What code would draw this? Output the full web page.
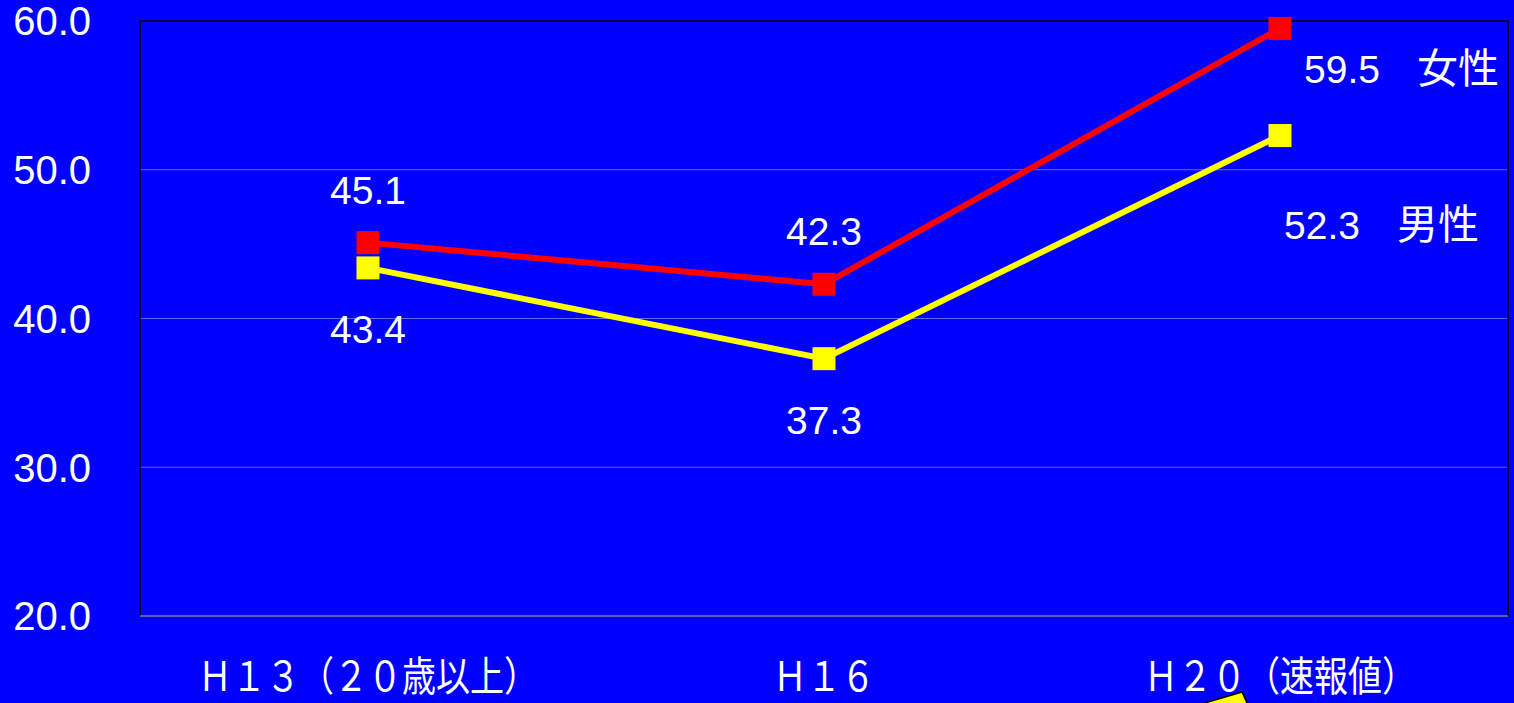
<!DOCTYPE html>
<html>
<head>
<meta charset="utf-8">
<script src="https://cdn.jsdelivr.net/npm/d3@7"></script>
<style>
  html, body { margin: 0; padding: 0; background: #0000ff; overflow: hidden; }
</style>
</head>
<body>
<div id="chart"></div>
<script>
const categories = ["Ｈ１３（２０歳以上）", "Ｈ１６", "Ｈ２０（速報値）"];
const femaleValues = [45.1, 42.3, 59.5];
const maleValues = [43.4, 37.3, 52.3];
const yTicks = [20, 30, 40, 50, 60];
const seriesNames = ["女性", "男性"];

const width = 1514;
const height = 703;
const padding = { top: 21, right: 6, bottom: 87, left: 140 };

const svg = d3
  .select("#chart")
  .append("svg")
  .attr("width", width)
  .attr("height", height);

svg.append("rect").attr("width", width).attr("height", height).attr("fill", "#0000ff");

const x = d3
  .scaleBand()
  .domain(categories)
  .range([padding.left, width - padding.right]);

const y = d3
  .scaleLinear()
  .domain([20, 60])
  .range([height - padding.bottom, padding.top]);

const cx = (d) => x(d) + x.bandwidth() / 2;

// grid lines
svg
  .append("g")
  .selectAll("line")
  .data(yTicks.filter((t) => t > 20 && t < 60))
  .enter()
  .append("line")
  .attr("x1", padding.left)
  .attr("x2", width - padding.right)
  .attr("y1", (d) => y(d))
  .attr("y2", (d) => y(d))
  .attr("stroke", "#6464ff")
  .attr("stroke-width", 1);

// frame
svg
  .append("path")
  .attr("d", `M${padding.left},${y(20)}V${y(60)}H${width - padding.right}V${y(20)}`)
  .attr("fill", "none")
  .attr("stroke", "#000")
  .attr("stroke-width", 1.5);

svg
  .append("line")
  .attr("x1", padding.left)
  .attr("x2", width - padding.right)
  .attr("y1", y(20))
  .attr("y2", y(20))
  .attr("stroke", "#808080")
  .attr("stroke-width", 1.5);

// y axis labels
svg
  .append("g")
  .selectAll("text")
  .data(yTicks)
  .enter()
  .append("text")
  .attr("x", 91)
  .attr("y", (d) => y(d))
  .attr("dy", "0.36em")
  .attr("text-anchor", "end")
  .attr("fill", "#fff")
  .attr("font-family", "Liberation Sans, Arial, sans-serif")
  .attr("font-size", 40)
  .text((d) => d.toFixed(1));

// x axis labels
svg
  .append("g")
  .selectAll("text")
  .data(categories)
  .enter()
  .append("text")
  .attr("transform", (d) => `translate(${cx(d)},${height - 12}) scale(1,1.2)`)
  .attr("text-anchor", "middle")
  .attr("fill", "#fff")
  .attr("font-family", "Noto Sans CJK JP, sans-serif")
  .attr("font-size", 34)
  .text((d) => d);

// callout piece at the bottom
svg
  .append("path")
  .attr("d", `M${cx(categories[2]) - 82},${height + 2}L${cx(categories[2]) - 38},${height - 11}L${cx(categories[2]) - 32},${height + 2}Z`)
  .attr("fill", "#ffff00")
  .attr("stroke", "#000")
  .attr("stroke-width", 1.5);

const line = d3
  .line()
  .x((d, i) => cx(categories[i]))
  .y((d) => y(d));

const series = [
  { name: seriesNames[1], values: maleValues, color: "#ffff00" },
  { name: seriesNames[0], values: femaleValues, color: "#ff0000" },
];

series.forEach(function (s) {
  svg
    .append("path")
    .datum(s.values)
    .attr("fill", "none")
    .attr("stroke", s.color)
    .attr("stroke-width", 6)
    .attr("d", line);

  svg
    .append("g")
    .selectAll("rect")
    .data(s.values)
    .enter()
    .append("rect")
    .attr("x", (d, i) => cx(categories[i]) - 11.5)
    .attr("y", (d) => y(d) - 11.5)
    .attr("width", 23)
    .attr("height", 23)
    .attr("fill", s.color);
});

const labelFont = "Liberation Sans, Arial, sans-serif";

// data labels for first two categories
[0, 1].forEach(function (i) {
  svg
    .append("text")
    .attr("x", cx(categories[i]))
    .attr("y", y(femaleValues[i]) - 39)
    .attr("text-anchor", "middle")
    .attr("fill", "#fff")
    .attr("font-family", labelFont)
    .attr("font-size", 39)
    .text(femaleValues[i].toFixed(1));

  svg
    .append("text")
    .attr("x", cx(categories[i]))
    .attr("y", y(maleValues[i]) + 75)
    .attr("text-anchor", "middle")
    .attr("fill", "#fff")
    .attr("font-family", labelFont)
    .attr("font-size", 39)
    .text(maleValues[i].toFixed(1));
});

// end labels with series names
function endLabel(value, name, dx, dy) {
  const t = svg
    .append("text")
    .attr("x", cx(categories[2]) + dx)
    .attr("y", y(value) + dy)
    .attr("fill", "#fff")
    .attr("font-size", 39);
  t.append("tspan").attr("font-family", labelFont).text(value.toFixed(1));
  t.append("tspan")
    .attr("x", cx(categories[2]) + dx + 113)
    .attr("font-family", "Noto Sans CJK JP, sans-serif")
    .attr("font-size", 41)
    .text(name);
}
endLabel(femaleValues[2], seriesNames[0], 24, 55);
endLabel(maleValues[2], seriesNames[1], 4, 103);
</script>
</body>
</html>
